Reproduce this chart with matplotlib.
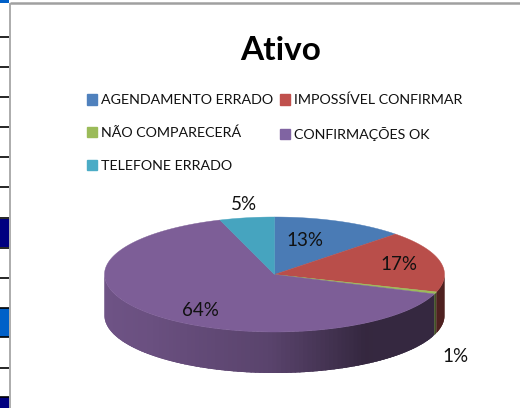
import numpy as np
import matplotlib
matplotlib.use("Agg")
import matplotlib.pyplot as plt
from matplotlib.patches import Polygon, Rectangle

plt.rcParams['font.family'] = ['Lato', 'Noto Sans', 'DejaVu Sans']

title = "Ativo"
categories = ["AGENDAMENTO ERRADO", "IMPOSSÍVEL CONFIRMAR", "NÃO COMPARECERÁ", "CONFIRMAÇÕES OK", "TELEFONE ERRADO"]
values = [12.6, 17.3, 0.6, 64.3, 5.2]
pie_colors = ["#4a7bb5", "#b94e4a", "#9bbb59", "#7d5e97", "#46a4bf"]
legend_colors = ["#4f81bd", "#c0504d", "#9bbb59", "#8064a2", "#4bacc6"]
label_xy = [(305, 241), (399, 265), (456, 356), (200, 310), (244, 204)]

fig = plt.figure(figsize=(5.2, 4.08), dpi=100)
ax = fig.add_axes([0, 0, 1, 1])
ax.set_xlim(0, 520)
ax.set_ylim(408, 0)
ax.axis("off")

# spreadsheet remnants around the chart frame
ax.add_patch(Rectangle((0, 0), 9, 3, color="#0060c8", lw=0))
ax.add_patch(Rectangle((0, 219), 9, 28, color="#000080", lw=0))
ax.add_patch(Rectangle((0, 308), 9, 29, color="#0060c8", lw=0))
ax.add_patch(Rectangle((0, 397), 9, 11, color="#000080", lw=0))
for yy in [37, 67, 97, 127, 157, 187, 218, 248, 278, 308, 337, 368, 397]:
    ax.plot([0, 9], [yy, yy], color="black", lw=1.2, solid_capstyle="butt")
ax.plot([10, 10], [3, 408], color="#a6a6a6", lw=1.3, solid_capstyle="butt")
ax.plot([10, 520], [2.5, 2.5], color="#a0a0a0", lw=1.8, solid_capstyle="butt")

# 3D pie, projected orthographically
cx, cy, a, b, depth = 274.5, 274.5, 170, 57.5, 41
edges = np.concatenate([[0], np.cumsum(values)]) / np.sum(values) * 360


def shade(theta):
    return np.interp(theta, [90, 146, 180, 225, 270], [.43, .42, .72, .85, .9])


def rgb(c):
    return np.array(matplotlib.colors.to_rgb(c))


# walk the side from left to right so each strip overlaps the previous one
for i, col in reversed(list(enumerate(pie_colors))):
    lo, hi = max(edges[i], 90), min(edges[i + 1], 270)
    if hi <= lo:
        continue
    steps = np.linspace(lo, hi, max(int((hi - lo) / 1.5) + 2, 2))
    for t0, t1 in reversed(list(zip(steps[:-1], steps[1:]))):
        ts = np.radians(np.linspace(t0, min(t1 + 2, hi), 6))
        xs = cx + a * np.sin(ts)
        ys = cy - b * np.cos(ts)
        pts = list(zip(xs, ys)) + list(zip(xs[::-1], ys[::-1] + depth))
        ax.add_patch(Polygon(pts, closed=True, lw=0,
                             color=rgb(col) * shade((t0 + t1) / 2)))

for i, col in enumerate(pie_colors):
    ts = np.radians(np.linspace(edges[i], edges[i + 1], 200))
    pts = [(cx, cy)] + list(zip(cx + a * np.sin(ts), cy - b * np.cos(ts)))
    ax.add_patch(Polygon(pts, closed=True, color=col, lw=0.3))

for v, (lx, ly) in zip(values, label_xy):
    ax.text(lx, ly, f"{v / sum(values) * 100:.0f}%", fontsize=13.5, ha="center", va="center", color="#111111")

ax.text(281, 51, title, fontsize=24, fontweight="bold", ha="center", va="center", color="black")

handles = [Rectangle((0, 0), 1, 1, color=c) for c in legend_colors]
order = [0, 2, 4, 1, 3]
ax.legend([handles[i] for i in order], [categories[i] for i in order],
          ncols=2, frameon=False, fontsize=10.3, loc="upper left",
          bbox_to_anchor=(87 / 520, 1 - 94 / 408), borderaxespad=0, borderpad=0,
          handlelength=0.7, handleheight=0.7, handletextpad=0.28,
          columnspacing=0.45, labelspacing=1.42, labelcolor="#111111")

fig.savefig("out.png", dpi=100)
